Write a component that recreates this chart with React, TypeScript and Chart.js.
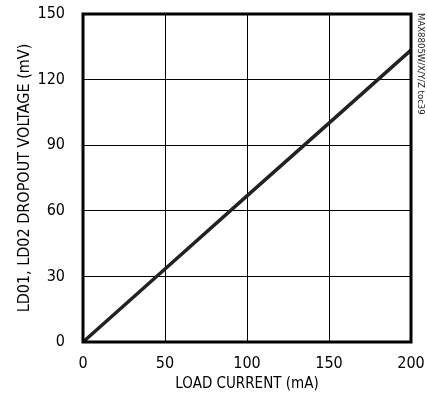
import React, { useEffect, useRef } from "react";
import { Chart, registerables } from "chart.js";
Chart.register(...registerables);

const loadCurrent = [0, 50, 100, 150, 200];
const dropout = [0, 33.4, 66.8, 100.1, 133.5];
const xTicks = [0, 50, 100, 150, 200];
const yTicks = [0, 30, 60, 90, 120, 150];
const FONT = "'Liberation Sans Narrow', 'DejaVu Sans Condensed', 'Roboto', sans-serif";

const framePlugin = {
  id: "frame",
  afterDraw(chart: any) {
    const { ctx, chartArea } = chart;
    ctx.save();
    ctx.strokeStyle = "#000";
    ctx.lineWidth = 3;
    ctx.strokeRect(chartArea.left, chartArea.top, chartArea.right - chartArea.left, chartArea.bottom - chartArea.top);
    ctx.translate(420, 13);
    ctx.rotate(Math.PI / 2);
    ctx.fillStyle = "#222";
    ctx.font = "9.5px " + FONT;
    ctx.textAlign = "left";
    ctx.textBaseline = "middle";
    ctx.fillText("MAX8805W/X/Y/Z toc39", 0, 0);
    ctx.restore();
  },
};

export default function App() {
  const ref = useRef<HTMLCanvasElement>(null);
  useEffect(() => {
    const chart = new Chart(ref.current!, {
      type: "line",
      data: {
        datasets: [
          {
            data: loadCurrent.map((x, i) => ({ x, y: dropout[i] })),
            borderColor: "#222",
            borderWidth: 3.5,
            pointRadius: 0,
            tension: 0,
          },
        ],
      },
      options: {
        responsive: false,
        animation: false,
        layout: { padding: { top: 14, right: 16, left: 0, bottom: 0 } },
        plugins: { legend: { display: false }, tooltip: { enabled: false } },
        scales: {
          x: {
            type: "linear",
            min: 0,
            max: 200,
            afterBuildTicks: (s: any) => { s.ticks = xTicks.map((v) => ({ value: v })); },
            afterFit: (s: any) => { s.height = 57; s.paddingLeft = 0; s.paddingRight = 0; },
            grid: { color: "#000", lineWidth: 1, drawTicks: false },
            border: { display: false },
            ticks: { color: "#000", padding: 12, font: { family: FONT, size: 16 } },
            title: { display: true, text: "LOAD CURRENT (mA)", color: "#000", padding: { top: 0, bottom: 6 }, font: { family: FONT, size: 15 } },
          },
          y: {
            type: "linear",
            min: 0,
            max: 150,
            afterBuildTicks: (s: any) => { s.ticks = yTicks.map((v) => ({ value: v })); },
            afterFit: (s: any) => { s.width = 83; s.paddingTop = 0; s.paddingBottom = 0; },
            grid: { color: "#000", lineWidth: 1, drawTicks: false },
            border: { display: false },
            ticks: { color: "#000", padding: 18, font: { family: FONT, size: 16 } },
            title: { display: true, text: "LD01, LD02 DROPOUT VOLTAGE (mV)", color: "#000", padding: { top: 15, bottom: 0 }, font: { family: FONT, size: 16 } },
          },
        },
      },
      plugins: [framePlugin],
    } as any);
    return () => chart.destroy();
  }, []);
  return (
    <div style={{ position: "fixed", left: 0, top: 0, width: 427, height: 399, background: "#fff" }}>
      <canvas ref={ref} width={427} height={399} />
    </div>
  );
}
